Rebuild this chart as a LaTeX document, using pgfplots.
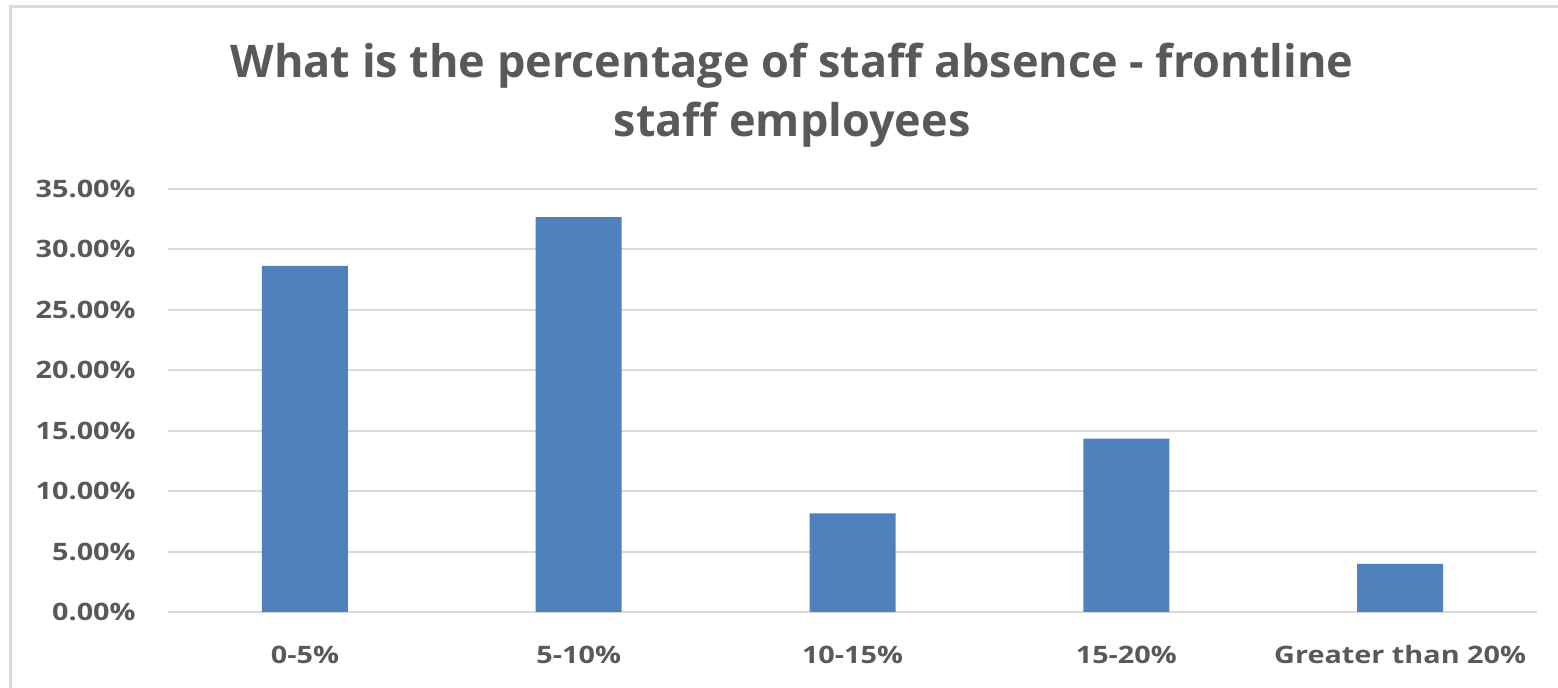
\documentclass[border=0pt]{standalone}
\usepackage{fontspec}
\setmainfont{Open Sans}
\newfontfamily\tickfont{Open Sans}[FakeStretch=1.2]
\usepackage{pgfplots}
\pgfplotsset{compat=1.18}
\definecolor{txtgray}{HTML}{595959}
\definecolor{barblue}{HTML}{4F81BD}
\definecolor{gridgray}{HTML}{D9D9D9}

\begin{document}
\begin{tikzpicture}[x=0.5pt,y=0.5pt]
% canvas measured in reference pixels (1558 x 688), y upwards
\path[use as bounding box] (0,0) rectangle (1558,688);
\draw[gridgray, line width=1.5pt] (10,-10) -- (10,681) -- (1570,681);

\node[anchor=base, text=txtgray, font=\fontsize{22.5pt}{27pt}\selectfont\bfseries]
  at (792,610) {What is the percentage of staff absence - frontline};
\node[anchor=base, text=txtgray, font=\fontsize{22.5pt}{27pt}\selectfont\bfseries]
  at (792,551) {staff employees};

\begin{axis}[
    at={(84pt,38pt)}, anchor=south west,
    scale only axis,
    width=684.5pt, height=211.5pt,
    xmin=-0.5, xmax=4.5,
    ymin=0, ymax=35,
    xtick={0,1,2,3,4},
    xticklabels={0-5\%, 5-10\%, 10-15\%, 15-20\%, Greater than 20\%},
    ytick={0,5,10,15,20,25,30,35},
    yticklabels={0.00\%, 5.00\%, 10.00\%, 15.00\%, 20.00\%, 25.00\%, 30.00\%, 35.00\%},
    axis line style={draw=none},
    tick style={draw=none},
    ymajorgrids=true,
    grid style={gridgray, line width=1pt},
    ticklabel style={text=txtgray, font=\fontsize{12pt}{14pt}\tickfont\bfseries, inner sep=0pt},
    xticklabel style={anchor=center, yshift=-21.5pt},
    yticklabel style={anchor=east, xshift=-16pt},
]
\addplot[ybar, bar width=43pt, fill=barblue, draw=none]
    coordinates {(0,28.63) (1,32.67) (2,8.15) (3,14.34) (4,3.98)};
\end{axis}
\end{tikzpicture}
\end{document}
